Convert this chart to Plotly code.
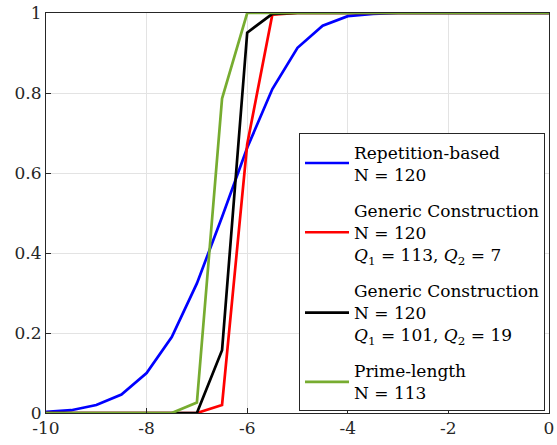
import plotly.graph_objects as go

snr = [-10, -9.5, -9, -8.5, -8, -7.5, -7, -6.5, -6, -5.5, -5, -4.5, -4, -3.5, -3, -2.5, -2, -1.5, -1, -0.5, 0]

rep_based = [0.003, 0.007, 0.02, 0.046, 0.10, 0.19, 0.324, 0.49, 0.663, 0.81, 0.913, 0.968, 0.992, 0.998, 1, 1, 1, 1, 1, 1, 1]
generic_113_7 = [0, 0, 0, 0, 0, 0, 0, 0.02, 0.672, 0.996, 1, 1, 1, 1, 1, 1, 1, 1, 1, 1, 1]
generic_101_19 = [0, 0, 0, 0, 0, 0, 0, 0.157, 0.951, 0.998, 1, 1, 1, 1, 1, 1, 1, 1, 1, 1, 1]
prime_length = [0, 0, 0, 0, 0, 0, 0.026, 0.786, 1, 1, 1, 1, 1, 1, 1, 1, 1, 1, 1, 1, 1]

names = [
    "Repetition-based<br>N = 120",
    "Generic Construction<br>N = 120<br><i>Q</i><sub>1</sub> = 113, <i>Q</i><sub>2</sub> = 7",
    "Generic Construction<br>N = 120<br><i>Q</i><sub>1</sub> = 101, <i>Q</i><sub>2</sub> = 19",
    "Prime-length<br>N = 113",
]
colors = ["#0000ff", "#ff0000", "#000000", "#77ac30"]

x_ticks = [-10, -8, -6, -4, -2, 0]
x_ticklabels = ["-10", "-8", "-6", "-4", "-2", "0"]
y_ticks = [0, 0.2, 0.4, 0.6, 0.8, 1]
y_ticklabels = ["0", "0.2", "0.4", "0.6", "0.8", "1"]

fig = go.Figure()
for i, (ys, nm, c) in enumerate(zip([rep_based, generic_113_7, generic_101_19, prime_length], names, colors)):
    fig.add_trace(go.Scatter(x=snr, y=ys, mode="lines", name=nm, legendgroup=f"g{i}",
                             line=dict(color=c, width=2.7)))

font_family = "DejaVu Serif"
axis_common = dict(
    showline=True, linecolor="#262626", linewidth=1, mirror=True,
    showgrid=True, gridcolor="#e3e3e3", gridwidth=1,
    ticks="inside", ticklen=5, tickcolor="#262626",
    tickfont=dict(family=font_family, size=17, color="#262626"),
    zeroline=False, ticklabeloverflow="allow",
)
fig.update_xaxes(range=[-10, 0], tickvals=x_ticks, ticktext=x_ticklabels, **axis_common)
fig.update_yaxes(range=[0, 1], tickvals=y_ticks, ticktext=y_ticklabels, **axis_common)

fig.update_layout(
    width=557, height=445,
    margin=dict(l=46, r=3, t=12, b=32),
    plot_bgcolor="white", paper_bgcolor="white",
    font=dict(family=font_family, size=17, color="black"),
    legend=dict(
        x=0.503, y=0.699, xanchor="left", yanchor="top",
        bgcolor="white", bordercolor="#262626", borderwidth=1,
        font=dict(family=font_family, size=17, color="black"),
        tracegroupgap=11, itemwidth=44,
    ),
    showlegend=True,
)

fig.write_html("out.html")
